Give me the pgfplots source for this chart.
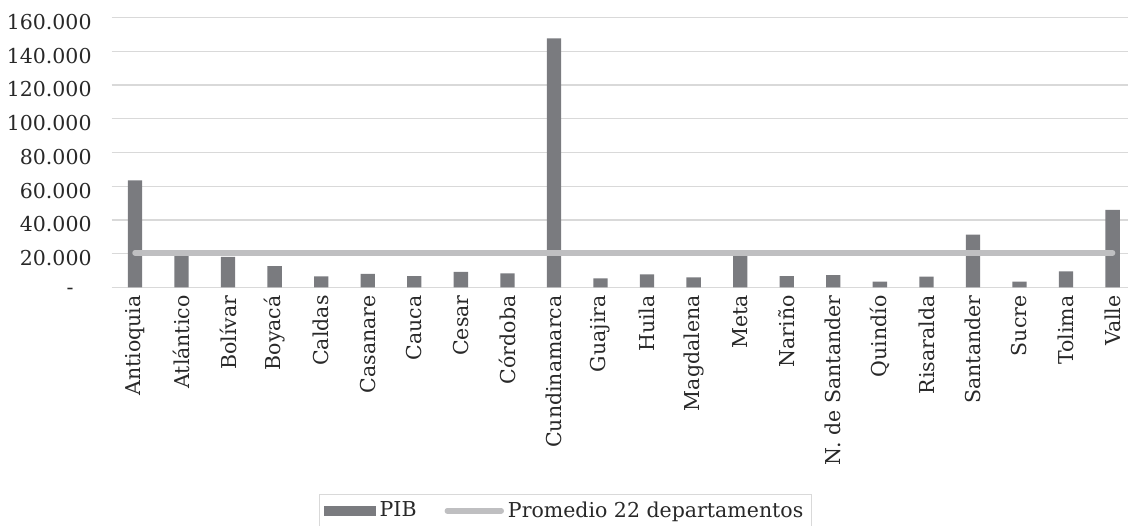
\documentclass[border=0pt]{standalone}
\usepackage{fontspec}
\setmainfont{DejaVu Serif}
\usepackage{pgfplots}
\pgfplotsset{compat=1.18}
\definecolor{bargray}{RGB}{122,123,127}
\definecolor{linegray}{RGB}{191,191,193}
\definecolor{gridgray}{RGB}{217,217,217}
\definecolor{textgray}{RGB}{40,40,40}
\newcommand{\lblfont}{\fontsize{10.25pt}{12.3pt}\selectfont}
\begin{document}
\begin{tikzpicture}
\begin{axis}[
  scale only axis,
  width=508.15pt, height=134.8pt,
  xmin=-0.5, xmax=21.33,
  ymin=0, ymax=160000,
  scaled y ticks=false,
  axis line style={draw=none},
  major tick length=0pt,
  ymajorgrids,
  grid style={color=gridgray, line width=0.65pt},
  ytick={0,20000,40000,60000,80000,100000,120000,140000,160000},
  yticklabels={-\kern9pt,20.000,40.000,60.000,80.000,100.000,120.000,140.000,160.000},
  xtick={0,1,...,21},
  xticklabels={Antioquia,Atlántico,Bolívar,Boyacá,Caldas,Casanare,Cauca,Cesar,Córdoba,Cundinamarca,Guajira,Huila,Magdalena,Meta,Nariño,N. de Santander,Quindío,Risaralda,Santander,Sucre,Tolima,Valle},
  yticklabel style={font=\lblfont, text=textgray, inner sep=0pt, anchor=east, yshift=-2.2pt},
  yticklabel shift=9.85pt,
  xticklabel style={font=\lblfont, text=textgray, inner sep=0pt, rotate=90, anchor=east},
  xticklabel shift=3.85pt,
  legend columns=2,
  legend style={at={(axis description cs:0.4465,-0.7667)}, anchor=north,
    draw=gridgray, line width=0.6pt, font=\lblfont, text=textgray,
    inner xsep=2pt, inner ysep=2.5pt,
    nodes={inner xsep=2pt, inner ysep=1pt},
    /tikz/every even column/.append style={column sep=12pt}},
]
\addplot[ybar, bar width=7.15pt, fill=bargray, draw=none,
  legend image code/.code={\fill[bargray] (0pt,-2.35pt) rectangle (26pt,2.35pt);}]
  table[x=i, y=v] {
i v
0 63500
1 18600
2 18000
3 12600
4 6500
5 7900
6 6700
7 9100
8 8300
9 147800
10 5300
11 7700
12 5900
13 19000
14 6700
15 7300
16 3300
17 6300
18 31200
19 3300
20 9500
21 45900
};
\addplot[color=linegray, line width=2.7pt, line cap=round,
  legend image code/.code={\draw[linegray, line width=2.7pt, line cap=round] (0pt,0pt) -- (27pt,0pt);}]
  coordinates {(0,20470) (21,20470)};
\legend{PIB, Promedio 22 departamentos}
\end{axis}
\pgfresetboundingbox
\path[use as bounding box] (-55.85pt,-118.85pt) rectangle (508.15pt,143.65pt);
\end{tikzpicture}
\end{document}
